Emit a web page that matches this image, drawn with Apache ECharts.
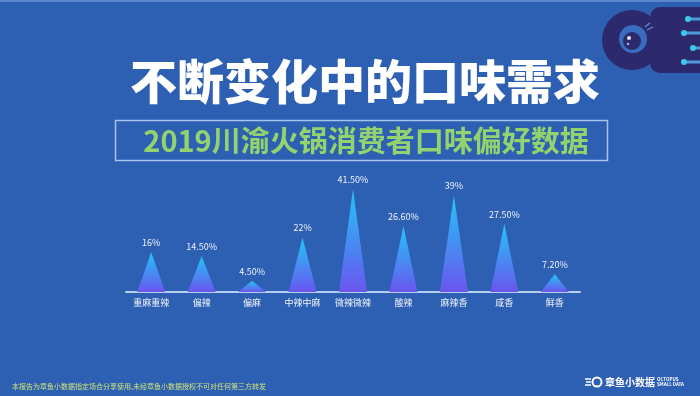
<!DOCTYPE html>
<html><head><meta charset="utf-8">
<script src="https://cdn.jsdelivr.net/npm/echarts@6/dist/echarts.min.js"></script>
<style>html,body{margin:0;padding:0;background:#2d5fb2;}#c{width:700px;height:396px;}</style>
</head><body><div id="c"></div>
<script>
const categories = ['重麻重辣','偏辣','偏麻','中辣中麻','微辣微辣','酸辣','麻辣香','咸香','鲜香'];
const values = [16, 14.5, 4.5, 22, 41.5, 26.6, 39, 27.5, 7.2];
const valueLabels = ['16%','14.50%','4.50%','22%','41.50%','26.60%','39%','27.50%','7.20%'];
const titleText = '不断变化中的口味需求';
const subtitleText = '2019川渝火锅消费者口味偏好数据';
const footerText = '本报告为章鱼小数据指定场合分享使用,未经章鱼小数据授权不可对任何第三方转发';

const chart = echarts.init(document.getElementById('c'), null, {renderer:'canvas'});
const F = '"Noto Sans CJK SC","Noto Sans",sans-serif';
const navy = '#2c2a6c';
chart.setOption({
  backgroundColor: '#2d5fb2',
  animation: false,
  grid: {left:126, width:454, top:168, height:124, containLabel:false},
  xAxis: {
    type:'category', data: categories,
    axisLine:{lineStyle:{color:'#b7cff2', width:2}},
    axisTick:{show:false},
    axisLabel:{color:'#eef3fb', fontSize:9, margin:6, fontFamily:F}
  },
  yAxis: {type:'value', min:0, max:50, show:false, splitLine:{show:false}},
  series: [{
    type:'pictorialBar',
    symbol:'triangle',
    symbolSize:[28,'100%'],
    data: values,
    itemStyle:{color:{type:'linear',x:0,y:0,x2:0,y2:1,colorStops:[{offset:0,color:'#22c6f6'},{offset:1,color:'#6a55ef'}]}},
    label:{show:true, position:'top', distance:5, color:'#eef3fc', fontSize:9, fontFamily:F,
      formatter: p => valueLabels[p.dataIndex]}
  }],
  graphic: [
    {type:'rect', shape:{x:0,y:0,width:700,height:2}, style:{fill:'#5a86cf'}},
    {type:'text', style:{text:titleText, x:365, y:81, textAlign:'center', textVerticalAlign:'middle', fill:'#ffffff', font:'900 47px '+F}},
    {type:'rect', shape:{x:115.5,y:120.5,width:492,height:40}, style:{fill:'none', stroke:'#a9c4ec', lineWidth:1.5}},
    {type:'text', style:{text:subtitleText, x:366, y:141, textAlign:'center', textVerticalAlign:'middle', fill:'#93d36f', font:'bold 29px '+F}},
    {type:'text', style:{text:footerText, x:12, y:386, textAlign:'left', textVerticalAlign:'middle', fill:'#cde27a', font:'7px '+F}},
    // top-right eye logo
    {type:'rect', shape:{x:650,y:7,width:60,height:66,r:10}, style:{fill:navy}},
    {type:'circle', shape:{cx:632,cy:40,r:30}, style:{fill:navy}},
    {type:'circle', shape:{cx:633,cy:39,r:14}, style:{fill:'#3a6cc2'}},
    {type:'circle', shape:{cx:632,cy:41,r:9}, style:{fill:navy}},
    {type:'circle', shape:{cx:629,cy:38,r:2}, style:{fill:'#dfe8ff'}},
    {type:'circle', shape:{cx:628,cy:44,r:1.3}, style:{fill:'#8fb0e8'}},
    {type:'line', shape:{x1:645,y1:27,x2:650,y2:23}, style:{stroke:'#5e8fd6',lineWidth:1.2}},
    {type:'line', shape:{x1:647,y1:30,x2:653,y2:27}, style:{stroke:'#5e8fd6',lineWidth:1.2}},
    {type:'line', shape:{x1:688,y1:19,x2:700,y2:19}, style:{stroke:'#4f9ad8',lineWidth:3}},
    {type:'line', shape:{x1:684,y1:33,x2:700,y2:33}, style:{stroke:'#4f9ad8',lineWidth:3}},
    {type:'line', shape:{x1:693,y1:48,x2:700,y2:48}, style:{stroke:'#4f9ad8',lineWidth:3}},
    {type:'line', shape:{x1:684,y1:62,x2:700,y2:62}, style:{stroke:'#4f9ad8',lineWidth:3}},
    {type:'circle', shape:{cx:688,cy:19,r:3}, style:{fill:'#3ec9ea'}},
    {type:'circle', shape:{cx:684,cy:33,r:3}, style:{fill:'#3ec9ea'}},
    {type:'circle', shape:{cx:693,cy:48,r:3}, style:{fill:'#3ec9ea'}},
    {type:'circle', shape:{cx:684,cy:62,r:3}, style:{fill:'#3ec9ea'}},
    // bottom-right brand
    {type:'line', shape:{x1:585,y1:379,x2:591,y2:379}, style:{stroke:'#ffffff',lineWidth:1.5}},
    {type:'line', shape:{x1:586,y1:382,x2:591,y2:382}, style:{stroke:'#ffffff',lineWidth:1.5}},
    {type:'line', shape:{x1:585,y1:385,x2:591,y2:385}, style:{stroke:'#ffffff',lineWidth:1.5}},
    {type:'circle', shape:{cx:597,cy:382,r:4.5}, style:{fill:'none',stroke:'#ffffff',lineWidth:2}},
    {type:'text', style:{text:'章鱼小数据', x:605, y:382, textAlign:'left', textVerticalAlign:'middle', fill:'#ffffff', font:'bold 10px '+F}},
    {type:'text', style:{text:'OCTOPUS', x:657, y:379, textAlign:'left', textVerticalAlign:'middle', fill:'#ffffff', font:'bold 4.5px '+F}},
    {type:'text', style:{text:'SMALL DATA', x:657, y:384.5, textAlign:'left', textVerticalAlign:'middle', fill:'#ffffff', font:'bold 4.5px '+F}}
  ]
});
</script></body></html>
